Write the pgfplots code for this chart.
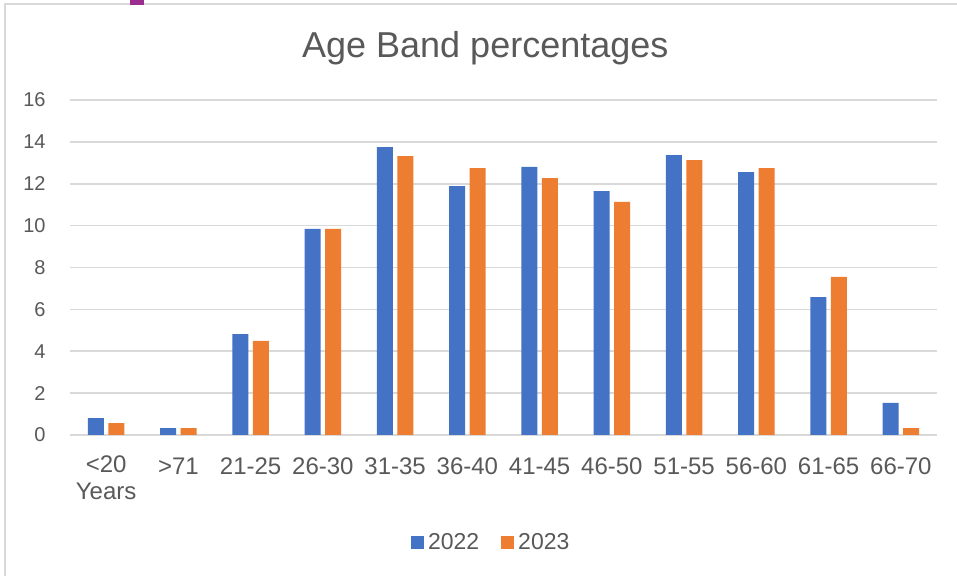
\documentclass[border=0pt]{standalone}
\usepackage{fontspec}
\setmainfont{Liberation Sans}
\usepackage{pgfplots}
\pgfplotsset{compat=1.18}
\definecolor{cblue}{HTML}{4472C4}
\definecolor{corange}{HTML}{ED7D31}
\definecolor{cgrid}{HTML}{D9D9D9}
\definecolor{ctext}{HTML}{595959}
\definecolor{cframe}{HTML}{D9D9D9}
\definecolor{cpurple}{HTML}{9B2D8E}
\begin{document}
\begin{tikzpicture}
\useasboundingbox (0,0) rectangle (478.5pt,288pt);
\fill[white] (0,0) rectangle (478.5pt,288pt);
\draw[cframe, line width=0.8pt] (2.5pt,0pt) -- (2.5pt,286pt) -- (478.5pt,286pt);
\fill[cpurple] (65pt,285.7pt) rectangle (72pt,288pt);
\begin{axis}[
  at={(35pt,70.5pt)}, anchor=south west,
  scale only axis, width=433.5pt, height=167.5pt,
  xmin=-0.5, xmax=11.5, ymin=0, ymax=16,
  ytick={0,2,...,16},
  xtick={0,...,11},
  xticklabels={{<20\\Years},{>71},{21-25},{26-30},{31-35},{36-40},{41-45},{46-50},{51-55},{56-60},{61-65},{66-70}},
  xticklabel style={anchor=north, align=center, font=\fontsize{12}{13.5}\selectfont, text=ctext, yshift=-2.5pt, execute at begin node=\strut},
  yticklabel style={anchor=east, font=\fontsize{10}{12}\selectfont, text=ctext, xshift=-8.7pt},
  /pgf/number format/assume math mode=true,
  axis line style={draw=none},
  major tick style={draw=none},
  ymajorgrids, major grid style={cgrid, line width=0.8pt},
  ybar, bar width=8pt,
  title={Age Band percentages},
  title style={at={(0.479,1.09)}, anchor=base, font=\fontsize{18}{21}\selectfont, text=ctext, inner sep=0pt},
  legend style={at={(0.487,-0.322)}, anchor=center, draw=none, fill=none, inner sep=0pt,
    font=\fontsize{11.5}{13}\selectfont, text=ctext, legend columns=2,
    /tikz/every even column/.append style={column sep=9pt}},
  legend image code/.code={\fill[#1] (0pt,-3.25pt) rectangle (6.5pt,3.25pt);},
]
\addplot[fill=cblue, draw=none, bar shift=-5.1pt] coordinates {
(0,0.81) (1,0.33) (2,4.82) (3,9.84) (4,13.75) (5,11.89) (6,12.80) (7,11.65) (8,13.37) (9,12.56) (10,6.59) (11,1.53)};
\addplot[fill=corange, draw=none, bar shift=5.1pt] coordinates {
(0,0.57) (1,0.33) (2,4.49) (3,9.84) (4,13.32) (5,12.75) (6,12.27) (7,11.13) (8,13.13) (9,12.75) (10,7.55) (11,0.33)};
\legend{2022,2023}
\end{axis}
\end{tikzpicture}
\end{document}
